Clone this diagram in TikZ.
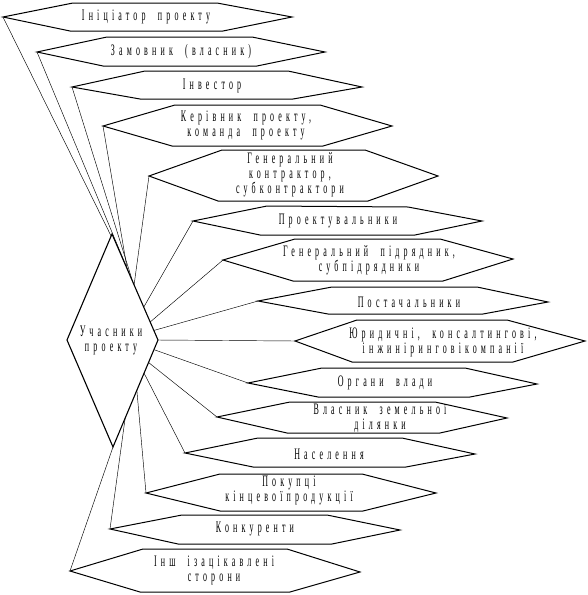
\documentclass[tikz,border=0pt]{standalone}
\usepackage{fontspec}
\newfontfamily\hfont[FakeStretch=0.5,LetterSpace=26,WordSpace=2.0]{Liberation Serif}
\usetikzlibrary{calc,backgrounds}
\newcommand\hexshape[7]{\draw[hexline] #2 coordinate(#1) -- #3 -- #4 -- #5 coordinate(#1r) -- #6 -- #7 -- cycle;}
\newcommand\capgap{\hspace*{4pt}}
\begin{document}
\begin{tikzpicture}[x=1pt,y=-1pt,
  hexline/.style={line width=1pt,fill=white,line join=miter},
  dialine/.style={line width=1.1pt,fill=white},
  conn/.style={line width=0.45pt},
  lbl/.style={font={\hfont\fontsize{16}{15}\selectfont},align=center,inner sep=0pt}]
\useasboundingbox (0,0) rectangle (587,595);
% diamond
\draw[dialine] (112,234) coordinate(dT) -- (158,340) coordinate(dR) -- (113,447) coordinate(dB) -- (67,340) coordinate(dL) -- cycle;
\node[lbl] (dtext) at (111,340) {У\capgap часники\\проекту};
% hexagons
\hexshape{h1}{(3,17)}{(73,3)}{(217,3)}{(292,17)}{(223,31)}{(70,31)}
\hexshape{h2}{(37,52)}{(107,37)}{(252,37)}{(325,52)}{(257,66)}{(103,66)}
\hexshape{h3}{(72,87)}{(145,71)}{(288,71)}{(362,87)}{(293,99)}{(140,99)}
\hexshape{h4}{(103,126)}{(175,105)}{(320,105)}{(392,126)}{(323,146)}{(172,146)}
\hexshape{h5}{(149,176)}{(222,150)}{(365,150)}{(438,176)}{(368,201)}{(218,201)}
\hexshape{h6}{(193,221)}{(267,206)}{(408,207)}{(482,221)}{(415,235)}{(260,235)}
\hexshape{h7}{(223,260)}{(295,239)}{(440,239)}{(513,259)}{(443,281)}{(293,281)}
\hexshape{h8}{(258,301)}{(332,287)}{(477,287)}{(548,302)}{(483,314)}{(328,314)}
\hexshape{h9}{(295,341)}{(357,320)}{(507,320)}{(585,341)}{(513,362)}{(352,362)}
\hexshape{h10}{(248,383)}{(322,368)}{(465,368)}{(537,384)}{(470,397)}{(318,397)}
\hexshape{h11}{(217,417)}{(290,402)}{(435,402)}{(507,418)}{(440,433)}{(287,433)}
\hexshape{h12}{(185,453)}{(258,438)}{(402,438)}{(475,454)}{(406,467)}{(253,467)}
\hexshape{h13}{(146,493)}{(220,474)}{(362,474)}{(436,493)}{(363,511)}{(220,511)}
\hexshape{h14}{(110,529)}{(182,515)}{(327,515)}{(400,530)}{(332,544)}{(178,544)}
\hexshape{h15}{(70,571)}{(143,549)}{(287,549)}{(360,572)}{(290,592)}{(140,592)}
% labels
\node[lbl] (t1) at (146,17) {Ініціатор проекту};
\node[lbl] (t2) at (181,52) {Замовник (власник)};
\node[lbl] (t3) at (212,86) {Інвестор};
\node[lbl] (t4) at (246,125) {К\capgap ерівник проекту,\\команда проекту};
\node[lbl] (t5) at (290,175) {Генеральний\\контрактор,\\субконтрактори};
\node[lbl] (t6) at (338,221) {Проектувальники};
\node[lbl] (t7) at (369,260) {Генеральний підрядник,\\субпідрядники};
\node[lbl] (t8) at (409,302) {П\capgap остачальники};
\node[lbl] (t9) at (443,342) {Ю\capgap ридичні, консалтингові,\\інжиніринговікомпанії};
\node[lbl] (t10) at (385,383) {Органи влади};
\node[lbl] (t11) at (380,418) {Власник земельної\\ділянки};
\node[lbl] (t12) at (329,454) {Н\capgap аселення};
\node[lbl] (t13) at (289,490) {П\capgap окупці\\кінцевоїпродукції};
\node[lbl] (t14) at (255,529) {Конкуренти};
\node[lbl] (t15) at (214,570) {Інш ізацікавлені\\сторони};
% connectors
\begin{pgfonlayer}{background}
\draw[conn] (h1) -- ($(dT)!0.30!(dR)$);
\draw[conn] (h2) -- ($(dT)!0.40!(dR)$);
\draw[conn] (h3) -- ($(dT)!0.45!(dR)$);
\draw[conn] (h4) -- ($(dT)!0.33!(dR)$);
\draw[conn] (h5) -- ($(dT)!0.48!(dR)$);
\draw[conn] (h6) -- ($(dT)!0.69!(dR)$);
\draw[conn] (h7) -- ($(dT)!0.83!(dR)$);
\draw[conn] (h8) -- ($(dT)!0.91!(dR)$);
\draw[conn] (h9) -- (dR);
\draw[conn] (h10) -- ($(dR)!0.09!(dB)$);
\draw[conn] (h11) -- ($(dR)!0.21!(dB)$);
\draw[conn] (h12) -- ($(dR)!0.31!(dB)$);
\draw[conn] (h13) -- ($(dR)!0.47!(dB)$);
\draw[conn] (h14) -- ($(dR)!0.73!(dB)$);
\draw[conn] (h15) -- (dB);
\end{pgfonlayer}
\end{tikzpicture}
\end{document}
